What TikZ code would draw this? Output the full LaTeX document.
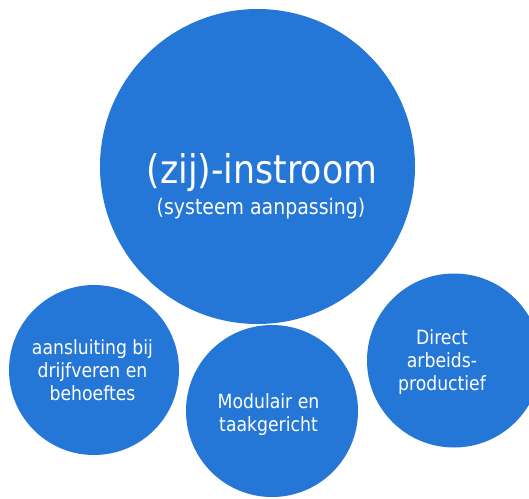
\documentclass[tikz,border=0pt]{standalone}
\usepackage{fontspec}
\setmainfont{DejaVu Sans}[FakeStretch=0.88]
\definecolor{bolblauw}{RGB}{36,118,215}
\begin{document}
\begin{tikzpicture}[
  x=1pt, y=-1pt,
  bol/.style={circle, fill=bolblauw, inner sep=0pt},
  tekst/.style={text=white, align=center, inner sep=0pt, font=\fontsize{19.6}{23}\selectfont}
]
  \useasboundingbox (0,0) rectangle (529,498);
  \clip (0,0) rectangle (529,498);

  \node[bol, minimum size=315pt] (instroom) at (257.5,166.5) {};
  \node[bol, minimum size=170pt] (aansluiting) at (94,370) {};
  \node[bol, minimum size=172pt] (modulair) at (272,411) {};
  \node[bol, minimum size=174pt] (direct) at (454,360.5) {};

  \node[text=white, anchor=base, inner sep=0pt, font=\fontsize{39.5}{44}\selectfont] (titel) at (262,183) {(zij)-instroom};
  \node[text=white, anchor=base, inner sep=0pt, font=\fontsize{21.5}{26}\selectfont] (ondertitel) at (261,214) {(systeem aanpassing)};

  \node[tekst] (t-aansluiting) at ([xshift=-1.5pt]aansluiting.center) {aansluiting bij\\drijfveren en\\behoeftes};
  \node[tekst] (t-modulair) at ([xshift=-3.5pt, yshift=-4pt]modulair.center) {Modulair en\\taakgericht};
  \node[tekst] (t-direct) at ([xshift=-12pt, yshift=-1.5pt]direct.center) {Direct\\arbeids-\\productief};
\end{tikzpicture}
\end{document}
